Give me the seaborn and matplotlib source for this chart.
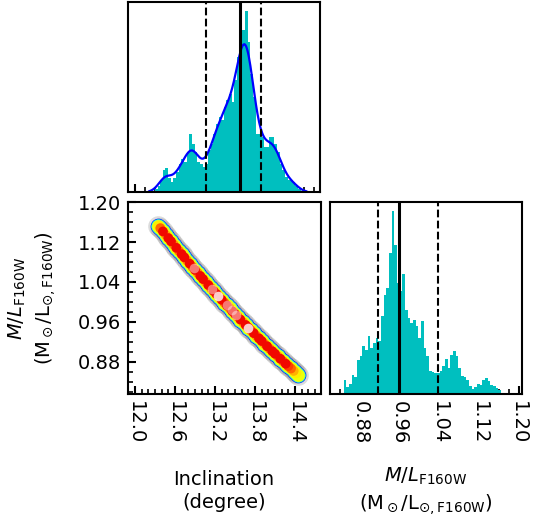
import numpy as np
import pandas as pd
import matplotlib
matplotlib.use("Agg")
import matplotlib.pyplot as plt
import seaborn as sns
from matplotlib.ticker import MultipleLocator

sns.set_theme(style="ticks", rc={
    "axes.edgecolor": "black", "axes.linewidth": 1.5,
    "xtick.color": "black", "ytick.color": "black",
    "text.color": "black", "axes.labelcolor": "black",
})
plt.rcParams['font.family'] = ['DejaVu Sans']
plt.rcParams['mathtext.fontset'] = 'dejavusans'

# ---------------- data ----------------
incl_bin_start = 12.30
incl_bin_width = 0.04
incl_counts = [3, 6, 12, 22, 24, 14, 10, 14, 20, 28, 33, 30, 40, 58, 48, 40, 30, 28,
               25, 28, 42, 48, 58, 68, 75, 72, 85, 92, 98, 90, 112, 135, 160, 162,
               181, 150, 118, 95, 58, 58, 55, 45, 45, 55, 55, 48, 40, 28, 22, 15,
               12, 12, 10, 6, 3]

ml_bin_start = 0.8471
ml_bin_width = 0.005373
ml_counts = [14, 7, 10, 19, 17, 34, 38, 48, 44, 58, 46, 51, 56, 53, 78, 99, 106, 141,
             183, 149, 111, 103, 120, 84, 76, 71, 74, 68, 56, 73, 46, 38, 23, 22, 21,
             21, 23, 28, 35, 26, 39, 43, 38, 26, 18, 17, 14, 8, 5, 7, 10, 9, 14, 16,
             13, 9, 8, 6, 4]

incl_median, incl_lo, incl_hi = 13.585, 13.07, 13.90
ml_median, ml_lo, ml_hi = 0.9586, 0.9157, 1.0366

scatter_incl = [12.35, 12.38, 12.42, 12.46, 12.50, 12.54, 12.58, 12.62, 12.66, 12.70,
                12.74, 12.78, 12.82, 12.86, 12.90, 12.94, 12.98, 13.02, 13.06, 13.10,
                13.14, 13.18, 13.22, 13.26, 13.30, 13.34, 13.38, 13.42, 13.46, 13.50,
                13.54, 13.58, 13.62, 13.66, 13.70, 13.74, 13.78, 13.82, 13.86, 13.90,
                13.94, 13.98, 14.02, 14.06, 14.10, 14.14, 14.18, 14.22, 14.26, 14.30,
                14.34, 14.38, 14.42, 14.45]
scatter_ml = [1.1530, 1.1480, 1.1413, 1.1347, 1.1281, 1.1215, 1.1150, 1.1085, 1.1021,
              1.0957, 1.0893, 1.0830, 1.0767, 1.0704, 1.0642, 1.0581, 1.0519, 1.0458,
              1.0398, 1.0338, 1.0278, 1.0218, 1.0159, 1.0101, 1.0042, 0.9984, 0.9927,
              0.9870, 0.9813, 0.9757, 0.9701, 0.9645, 0.9590, 0.9535, 0.9481, 0.9427,
              0.9373, 0.9320, 0.9267, 0.9214, 0.9162, 0.9110, 0.9059, 0.9008, 0.8958,
              0.8907, 0.8858, 0.8808, 0.8759, 0.8710, 0.8662, 0.8614, 0.8567, 0.8531]
scatter_level = [0.66, 0.80, 0.90, 0.74, 0.90, 0.90, 0.76, 0.90, 0.78, 0.90,
                 0.90, 0.75, 0.90, 0.80, 0.90, 0.76, 0.90, 0.90, 0.74, 0.90,
                 0.78, 0.90, 0.90, 0.76, 0.90, 0.80, 0.90, 0.75, 0.90, 0.90,
                 0.78, 0.90, 0.74, 0.90, 0.90, 0.80, 0.90, 0.76, 0.90, 0.90,
                 0.75, 0.90, 0.78, 0.90, 0.90, 0.76, 0.90, 0.80, 0.90, 0.84,
                 0.80, 0.72, 0.66, 0.64]

highlight_incl = [12.88, 13.15, 13.25, 13.38, 13.45, 13.52, 13.70]
highlight_ml = [1.0673, 1.0263, 1.0115, 0.9927, 0.9827, 0.9729, 0.9481]
highlight_alpha = [0.45, 0.45, 0.8, 0.45, 0.4, 0.45, 0.8]

incl_ticks = [12.0, 12.6, 13.2, 13.8, 14.4]
incl_ticklabels = ["12.0", "12.6", "13.2", "13.8", "14.4"]
ml_ticks = [0.88, 0.96, 1.04, 1.12, 1.20]
ml_ticklabels = ["0.88", "0.96", "1.04", "1.12", "1.20"]

incl_label = "Inclination\n(degree)"
ml_label = "$M/L_{\\rm F160W}$\n(M$_\\odot$/L$_{\\odot,\\rm F160W}$)"

# ---------------- figure ----------------
W, H = 534, 518
fig = plt.figure(figsize=(W / 100, H / 100), dpi=100)

def box(x0, y0, x1, y1):
    return [x0 / W, 1 - y1 / H, (x1 - x0) / W, (y1 - y0) / H]

ax_top = fig.add_axes(box(128, 2, 320, 192))
ax_sc = fig.add_axes(box(128, 202, 321, 394))
ax_r = fig.add_axes(box(330, 202, 522, 394))

incl_xlim = (11.895, 14.79)
ml_lim = (0.815, 1.2005)
ml_xlim_r = (0.8196, 1.2066)
hist_color = (0.0, 0.75, 0.75)

# top histogram
incl_edges = [incl_bin_start + i * incl_bin_width for i in range(len(incl_counts) + 1)]
incl_centers = [e + incl_bin_width / 2 for e in incl_edges[:-1]]
df_i = pd.DataFrame({"incl": incl_centers, "n": incl_counts})
sns.histplot(data=df_i, x="incl", weights="n", bins=incl_edges, stat="density",
             element="step", fill=True, color=hist_color, alpha=1, linewidth=0, ax=ax_top)
sns.kdeplot(data=df_i, x="incl", weights="n", bw_adjust=0.38, cut=1, color="blue",
            lw=1.6, ax=ax_top)
ax_top.axvline(incl_median, color="black", lw=2.2)
ax_top.axvline(incl_lo, color="black", lw=1.5, ls="--")
ax_top.axvline(incl_hi, color="black", lw=1.5, ls="--")
ax_top.set_xlim(*incl_xlim)
top_peak = max(incl_counts) / (sum(incl_counts) * incl_bin_width)
ax_top.set_ylim(0, top_peak * 1.05)
ax_top.set_yticks([])
ax_top.set_xlabel("")
ax_top.set_ylabel("")

# right histogram
ml_edges = [ml_bin_start + i * ml_bin_width for i in range(len(ml_counts) + 1)]
ml_centers = [e + ml_bin_width / 2 for e in ml_edges[:-1]]
df_m = pd.DataFrame({"ml": ml_centers, "n": ml_counts})
sns.histplot(data=df_m, x="ml", weights="n", bins=ml_edges, stat="density",
             element="step", fill=True, color=hist_color, alpha=1, linewidth=0, ax=ax_r)
ax_r.axvline(ml_median, color="black", lw=2.2)
ax_r.axvline(ml_lo, color="black", lw=1.5, ls="--")
ax_r.axvline(ml_hi, color="black", lw=1.5, ls="--")
ax_r.set_xlim(*ml_xlim_r)
r_peak = max(ml_counts) / (sum(ml_counts) * ml_bin_width)
ax_r.set_ylim(0, r_peak * 1.05)
ax_r.set_yticks([])
ax_r.set_xlabel("")
ax_r.set_ylabel("")

# scatter
df_s = pd.DataFrame({"incl": scatter_incl, "ml": scatter_ml, "lev": scatter_level})
jet = plt.get_cmap("jet")
sns.scatterplot(data=df_s, x="incl", y="ml", color="0.55", alpha=0.3, s=220,
                linewidth=0, ax=ax_sc)
for lev, size in [(0.12, 126), (0.35, 110), (0.5, 96), (0.64, 82)]:
    sns.scatterplot(data=df_s, x="incl", y="ml", color=jet(lev), s=size,
                    linewidth=0, ax=ax_sc)
df_core = df_s.sort_values("lev", kind="stable")
sns.scatterplot(x=df_core["incl"], y=df_core["ml"], c=[jet(v) for v in df_core["lev"]],
                s=50, linewidth=0, ax=ax_sc)
df_h = pd.DataFrame({"incl": highlight_incl, "ml": highlight_ml})
for (xi, yi), a in zip(df_h.values, highlight_alpha):
    sns.scatterplot(x=[xi], y=[yi], color="white", alpha=a, s=48, linewidth=0, ax=ax_sc)
ax_sc.set_xlim(*incl_xlim)
ax_sc.set_ylim(*ml_lim)
ax_sc.set_xlabel("")
ax_sc.set_ylabel("")

# ticks
ax_top.set_xticks(incl_ticks)
ax_top.xaxis.set_minor_locator(MultipleLocator(0.15))
ax_top.set_xticklabels([])
ax_sc.set_xticks(incl_ticks)
ax_sc.xaxis.set_minor_locator(MultipleLocator(0.1))
ax_sc.set_xticklabels(incl_ticklabels, rotation=-90)
ax_sc.set_yticks(ml_ticks)
ax_sc.set_yticklabels(ml_ticklabels)
ax_sc.yaxis.set_minor_locator(MultipleLocator(0.02))
ax_r.set_xticks(ml_ticks)
ax_r.set_xticklabels(ml_ticklabels, rotation=-90)
ax_r.xaxis.set_minor_locator(MultipleLocator(0.02))

for ax in (ax_top, ax_sc, ax_r):
    ax.tick_params(which="major", direction="in", length=6, width=1.5,
                   labelsize=14, top=False, right=False, pad=5)
    ax.tick_params(which="minor", direction="in", length=3.5, width=1.2,
                   top=False, right=False)
    for sp in ax.spines.values():
        sp.set_visible(True)
        sp.set_linewidth(1.5)
        sp.set_color("black")
ax_top.tick_params(axis="y", which="both", left=False)
ax_r.tick_params(axis="y", which="both", left=False)

# axis labels
fig.text(224 / W, 1 - 491 / H, incl_label, ha="center", va="center", fontsize=14,
         multialignment="center", linespacing=1.3)
fig.text(426 / W, 1 - 491 / H, ml_label, ha="center", va="center", fontsize=14,
         multialignment="center", linespacing=1.3)
fig.text(32 / W, 1 - 298 / H, ml_label, ha="center", va="center", fontsize=14,
         rotation=90, multialignment="center", linespacing=1.3)

fig.savefig("out.png", dpi=100)
